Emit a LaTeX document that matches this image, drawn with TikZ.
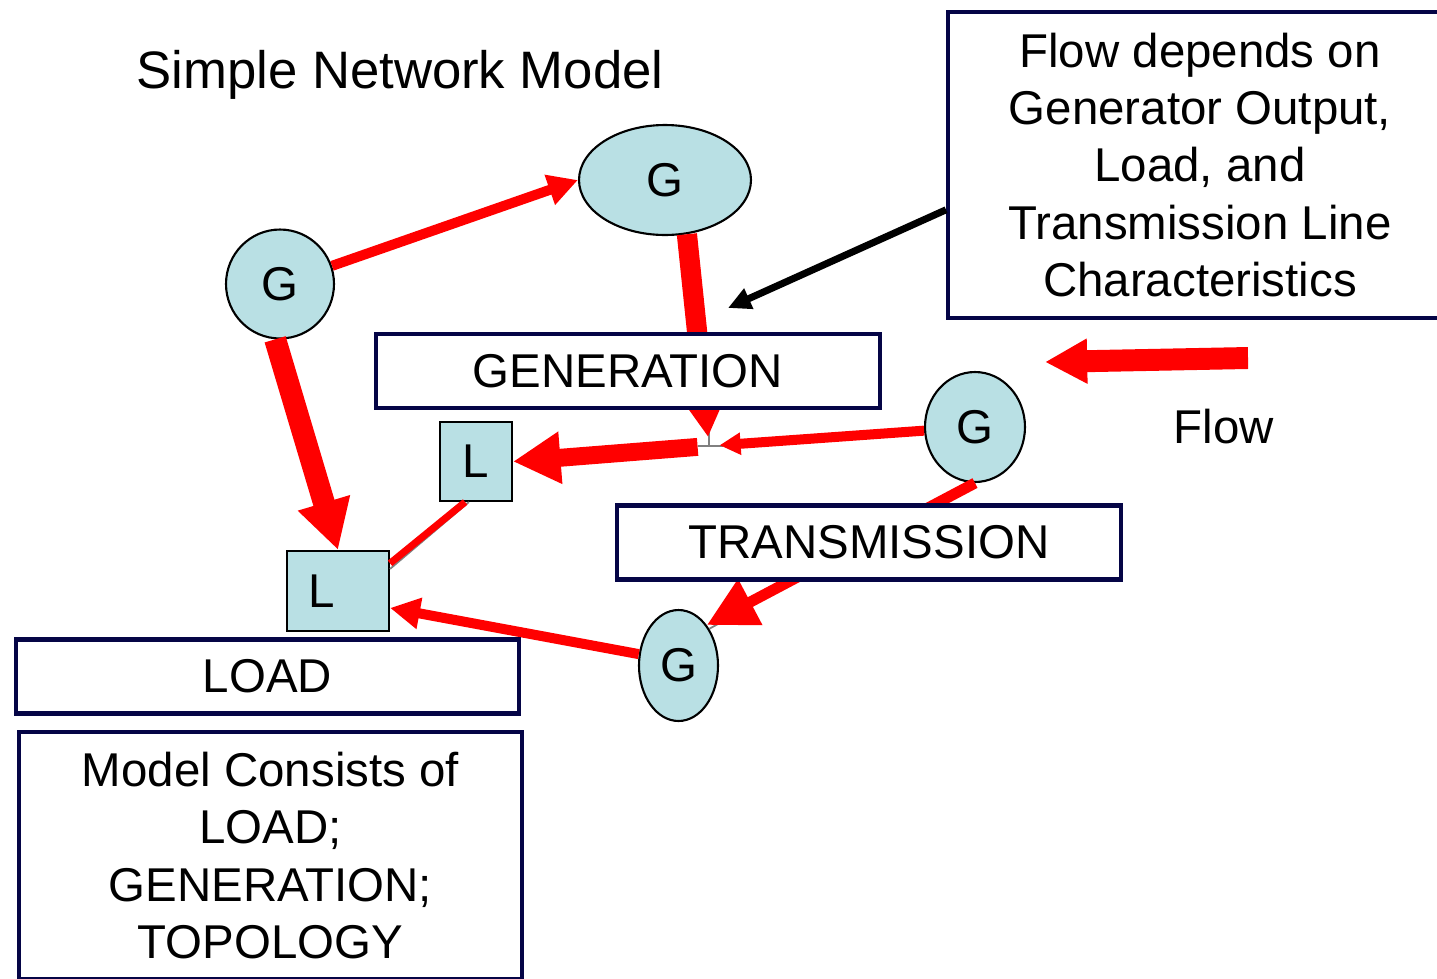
\documentclass[tikz,border=0pt]{standalone}
\usepackage{fontspec}
\setmainfont{Liberation Sans}
\usetikzlibrary{shapes.geometric,arrows.meta,positioning}
\definecolor{nodeblue}{RGB}{185,224,228}
\definecolor{boxnavy}{RGB}{5,5,70}
\definecolor{flowred}{RGB}{255,0,0}

\begin{document}
\begin{tikzpicture}[
    x=0.02cm, y=-0.02cm,
    font=\fontsize{27}{32.6}\selectfont,
    gen/.style={ellipse, draw, line width=1.2pt, fill=nodeblue, inner sep=0pt},
    load/.style={rectangle, draw, line width=1.2pt, fill=nodeblue, inner sep=0pt},
    infobox/.style={rectangle, draw=boxnavy, line width=2.3pt, fill=white, align=center,
        minimum width=10.08cm, minimum height=1.48cm},
    flow/.style={draw=flowred, line width=5.7pt, -{Triangle[length=17pt,width=17pt]}},
    bigflow/.style={draw=flowred, line width=11.5pt, -{Triangle[length=27pt,width=28pt]}},
    wire/.style={draw=gray, line width=1pt}
]
\useasboundingbox (0,0) rectangle (1437,978);

\node[anchor=base] (title) at (400,88) {\fontsize{30}{36}\selectfont Simple Network Model};

% generators and loads
\node[gen, minimum width=2.16cm, minimum height=2.18cm] (g1) at (280,284) {G};
\node[gen, minimum width=3.44cm, minimum height=2.2cm] (g2) at (665,180) {G};
\node[gen, minimum width=2.0cm, minimum height=2.2cm] (g3) at (975,427) {G};
\node[gen, minimum width=1.58cm, minimum height=2.22cm] (g4) at (678.5,665.5) {G};
\node[load, minimum width=1.44cm, minimum height=1.58cm] (l1) at (476,461.5) {L};
\node[load, minimum width=2.04cm, minimum height=1.6cm, text width=1.2cm, align=left] (l2) at (338,591) {L};

\coordinate (j) at (709,446);
\coordinate (note) at (728,308);
\coordinate (flowstart) at (1248,358);
\coordinate (flowend) at (1045,362);

% grey connectors underneath
\draw[wire] (j) -- ++(0,-16) (j) ++(-11,0) -- ++(25,0);
\draw[wire] (l1.-100) -- (l2.23);
\draw[wire] (g3.south) -- (g4.50);

\path
(g1) edge[flow] (g2.west)
(g2.-68) edge[bigflow, shorten >=5pt] (j)
(g3) edge[flow, -{Triangle[length=12pt,width=12pt]}, shorten >=6pt] (j)
(j) edge[bigflow, line width=10.2pt, shorten <=6.5pt] (l1.east)
(l1.-105) edge[draw=flowred, line width=4pt] (l2.28)
(g1.-95) edge[bigflow, line width=12.5pt, -{Triangle[length=28pt,width=29pt]}] (l2.north)
(g3.south) edge[flow, line width=6.2pt, -{Triangle[length=28pt,width=28pt]}] (g4.55)
(g4.164) edge[flow] (l2.-18)
(flowstart) edge[bigflow, line width=12.5pt, -{Triangle[length=24pt,width=24pt]}] (flowend);

% boxes
\node[infobox] (generation) at (628,371) {GENERATION};
\node[infobox] (transmission) at (869,542.5) {TRANSMISSION};
\node[infobox] (loadbox) at (267.5,676.5) {LOAD};
\node[infobox, minimum height=4.94cm] (consists) at (270.5,855.5) {Model Consists of\\LOAD;\\GENERATION;\\TOPOLOGY};
\node[infobox, minimum height=6.12cm] (flowbox) at (1200,165) {Flow depends on\\Generator Output,\\Load, and\\Transmission Line\\Characteristics};
\node (flowlabel) at (1224,427) {Flow};

\path (flowbox.190) edge[draw=black, line width=4pt, -{Triangle[length=13pt,width=12pt]}] (note);

\end{tikzpicture}
\end{document}
